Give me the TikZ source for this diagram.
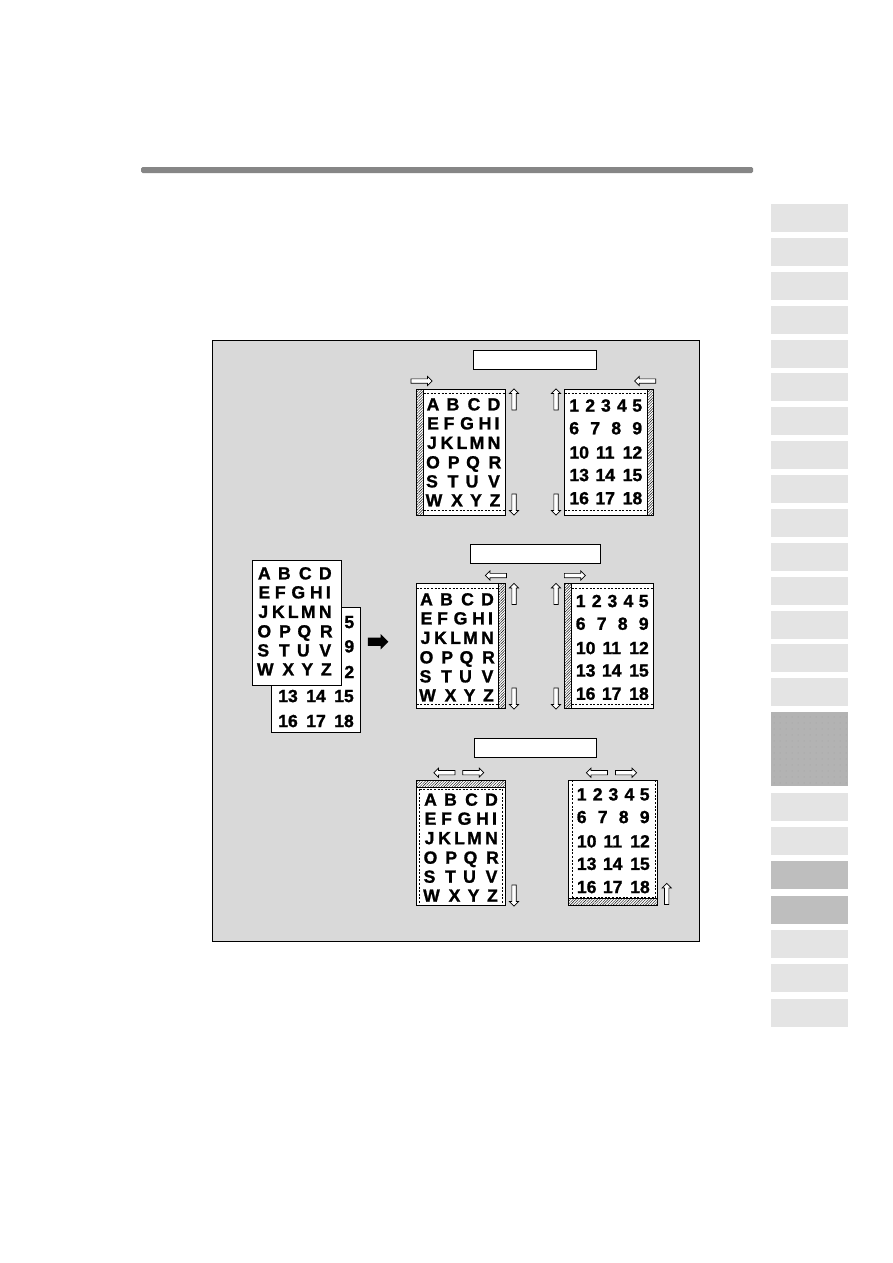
\documentclass[tikz,border=0pt]{standalone}
\usepackage{fontspec}
\setmainfont{Liberation Sans}
\newfontfamily\glyphfont{Liberation Sans}[BoldFeatures={FakeBold=1.2}]
\usetikzlibrary{shapes.arrows,patterns.meta}
\definecolor{panelgray}{HTML}{D9D9D9}
\definecolor{tabgray}{HTML}{E4E4E4}
\definecolor{tabdark}{HTML}{BEBEBE}
\definecolor{tabdot}{HTML}{B3B3B3}
\definecolor{tabspeck}{HTML}{A0A0A0}
\tikzset{
	sheet/.style={
		draw, fill=white, line width=.9pt, anchor=north west, inner sep=0pt, outer sep=0pt,
		minimum width=89pt, minimum height=125.5pt
	},
	glyph/.style={
		inner sep=0pt, text height=12.8pt, text depth=0pt,
		font={\glyphfont\fontsize{17.6}{17.6}\selectfont\bfseries}
	},
	hollow/.style={
		draw, fill=white, line width=.7pt, single arrow, inner sep=0pt, outer sep=0pt,
		text height=3.6pt, text depth=0pt, text width=0pt,
		minimum height=21pt, single arrow head extend=2.4pt
	},
	solidarrow/.style={
		fill=black, single arrow, inner sep=0pt,
		text height=8pt, text depth=0pt, text width=0pt,
		minimum height=20.5pt, single arrow head extend=3.5pt
	},
	hatch/.style={
		draw, line width=.9pt, pattern={Lines[angle=45,distance=1.9pt,line width=.4pt]}
	},
	margin/.style={line width=.7pt, dash pattern=on 2pt off 1.6pt},
	labelbox/.style={draw, fill=white, line width=.9pt, inner sep=0pt, outer sep=0pt, minimum height=19.5pt},
	tab/.style={fill=tabgray},
}
\newcommand\lettersheet[5]{
	\node[sheet] (#1) at (#2,#3) {};
	\foreach \t/\x/\y in {
		A/0/0,B/20/0,C/41/0,D/61/0,
		E/0/19,F/16/19,G/34/19,H/52/19,I/64/19,
		J/-1/38.5,K/14/38.5,L/29/38.5,M/44/38.5,N/61/38.5,
		O/0/58,P/20.7/58,Q/40/58,R/62/58,
		S/-1/77,T/20/77,U/39/77,V/61/77,
		W/1/96,X/24/96,Y/43/96,Z/62/96}
	\node[glyph] (#1-\t) at (#2+#4+\x,#3+#5+\y) {\t};
}
\newcommand\numbersheet[5]{
	\node[sheet] (#1) at (#2,#3) {};
	\foreach \t/\x/\y in {
		1/0/0,2/16/0,3/31.7/0,4/47.7/0,5/63/0,
		6/0/22.7,7/21/22.7,8/42/22.7,9/63/22.7,
		10/5/47,11/31/47,12/58.3/47,
		13/5/69.5,14/31/69.5,15/58.3/69.5,
		16/5/92.7,17/31/92.7,18/58.3/92.7}
	\node[glyph] (#1-\t) at (#2+#4+\x,#3+#5+\y) {\t};
}

\begin{document}
\begin{tikzpicture}[x=1pt,y=-1pt]
\useasboundingbox (0,0) rectangle (893,1263);
\fill[white] (0,0) rectangle (893,1263);
\fill[gray!95, rounded corners=1.5pt] (141,167) rectangle (753,173);
\foreach \ty in {204,238,272,306,340,373,407,441,475,509,543,577,611,644,678,793,827,930,964,999}
	\fill[tab] (771,\ty) rectangle (848,\ty+28);
\foreach \ty in {861,896}
	\fill[tabdark] (771,\ty) rectangle (848,\ty+28);
\fill[tabdot] (771,712) rectangle (848,786);
\fill[pattern={Dots[radius=.5pt,distance=6pt]}, pattern color=tabspeck] (771,712) rectangle (848,786);

\draw[fill=panelgray, line width=.9pt] (212,340) rectangle (699,941);

\node[labelbox, minimum width=123.5pt] (labelA) at (534.7,360) {};
\node[labelbox, minimum width=130.5pt] (labelB) at (535.2,554) {};
\node[labelbox, minimum width=122.5pt] (labelC) at (535.2,748) {};

% stack on the left
\node[sheet] (stackN) at (271.7,607.3) {};
\foreach \t/\x/\y in {
	5/349.3/621.7,9/349.3/646,2/349.3/671.7,
	13/288/695.7,14/316/695.7,15/344/695.7,
	16/288/720.7,17/316/720.7,18/344/720.7}
\node[glyph] (stackN-\t) at (\x,\y) {\t};
\lettersheet{stackL}{252.3}{560}{12}{13}
\node[solidarrow] (goarrow) at (376,641.7) {};

% top pair
\lettersheet{topL}{416.5}{389.5}{16.5}{14.5}
\numbersheet{topR}{564.5}{389.5}{9.7}{15.7}
\draw[hatch] (topL.north west) rectangle ([xshift=7pt]topL.south west);
\draw[hatch] ([xshift=-6pt]topR.north east) rectangle (topR.south east);
\draw[margin] ([xshift=7pt,yshift=-4pt]topL.north west) -- ([yshift=-4pt]topL.north east);
\draw[margin] ([xshift=7pt,yshift=5pt]topL.south west) -- ([yshift=5pt]topL.south east);
\draw[margin] ([yshift=-4pt]topR.north west) -- ([xshift=-6pt,yshift=-4pt]topR.north east);
\draw[margin] ([yshift=5pt]topR.south west) -- ([xshift=-6pt,yshift=5pt]topR.south east);

% middle pair
\lettersheet{midL}{416.5}{583.3}{10}{15.7}
\numbersheet{midR}{564.5}{583.3}{16.2}{17.4}
\draw[hatch] ([xshift=-7pt]midL.north east) rectangle (midL.south east);
\draw[hatch] (midR.north west) rectangle ([xshift=7pt]midR.south west);
\draw[margin] ([yshift=-5pt]midL.north west) -- ([xshift=-7pt,yshift=-5pt]midL.north east);
\draw[margin] ([yshift=4pt]midL.south west) -- ([xshift=-7pt,yshift=4pt]midL.south east);
\draw[margin] ([xshift=7pt,yshift=-5pt]midR.north west) -- ([yshift=-5pt]midR.north east);
\draw[margin] ([xshift=7pt,yshift=4pt]midR.south west) -- ([yshift=4pt]midR.south east);

% bottom pair
\lettersheet{botL}{416.5}{780.3}{14}{19}
\numbersheet{botR}{568.3}{780.3}{13.4}{13.7}
\draw[hatch] (botL.north west) rectangle ([yshift=-7pt]botL.north east);
\draw[hatch] ([yshift=7pt]botR.south west) rectangle (botR.south east);
\draw[margin] ([xshift=3pt,yshift=-9pt]botL.north west) -- ([xshift=-3pt,yshift=-9pt]botL.north east);
\draw[margin] ([xshift=3pt,yshift=-9pt]botL.north west) -- ([xshift=3pt]botL.south west);
\draw[margin] ([xshift=-3pt,yshift=-9pt]botL.north east) -- ([xshift=-3pt]botL.south east);
\draw[margin] ([xshift=4pt,yshift=8.5pt]botR.south west) -- ([xshift=-2pt,yshift=8.5pt]botR.south east);
\draw[margin] ([xshift=4pt]botR.north west) -- ([xshift=4pt,yshift=8.5pt]botR.south west);
\draw[margin] ([xshift=-2pt]botR.north east) -- ([xshift=-2pt,yshift=8.5pt]botR.south east);

% arrows
\foreach \aname/\ax/\ay/\arot in {
	a1/420.5/381/0,a2/646.3/381/180,
	a3/514/400.5/90,a4/514/503.5/270,a5/556/400.5/90,a6/556/503.5/270,
	a7/497/575.5/180,a8/573.8/575.5/0,
	a9/514/595/90,a10/514/697.5/270,a11/556/595/90,a12/556/697.5/270,
	a13/445.5/772.7/180,a14/472.2/772.7/0,a15/598/772.7/180,a16/625/772.7/0,
	a17/514/894.5/270,a18/666.7/895/90}
\node[hollow, rotate=\arot] (\aname) at (\ax,\ay) {};
\end{tikzpicture}
\end{document}
